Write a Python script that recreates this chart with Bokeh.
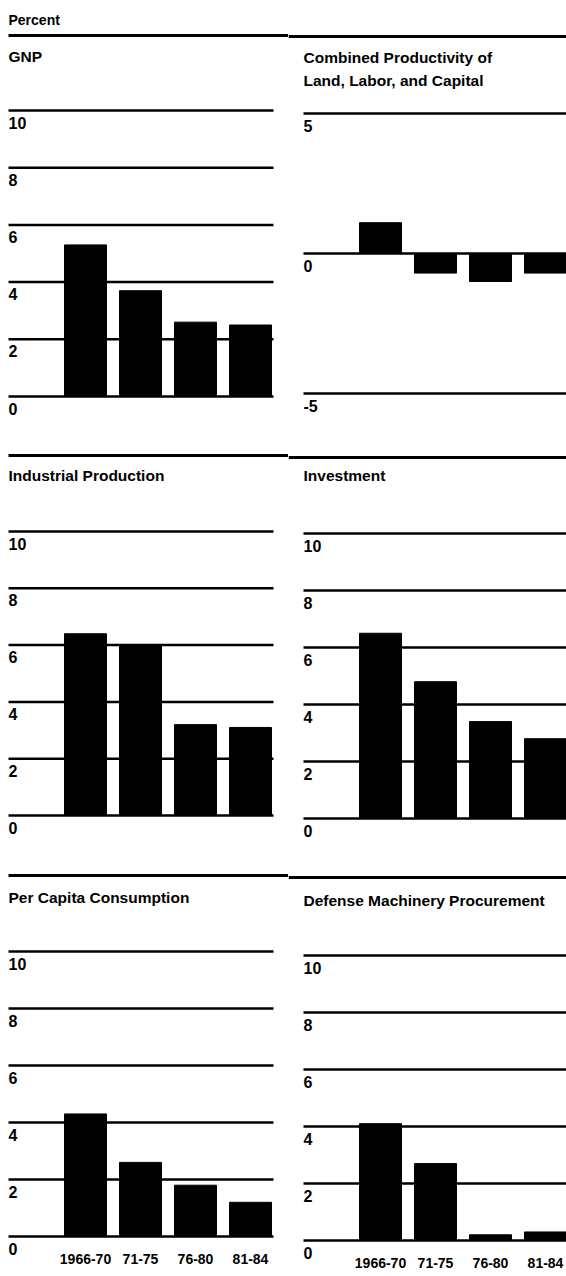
from bokeh.plotting import figure
from bokeh.layouts import column, row
from bokeh.models import Range1d, Label, Grid
from bokeh.core.properties import value
from bokeh.embed import file_html
from bokeh.resources import INLINE

# ---------------- data ----------------
periods = ["1966-70", "71-75", "76-80", "81-84"]
gnp = [5.3, 3.7, 2.6, 2.5]
productivity = [1.1, -0.7, -1.0, -0.7]
industrial = [6.4, 6.0, 3.2, 3.1]
investment = [6.5, 4.8, 3.4, 2.8]
consumption = [4.3, 2.6, 1.8, 1.2]
defense = [4.1, 2.7, 0.2, 0.3]

ticks_std = [0, 2, 4, 6, 8, 10]
ticks_prod = [-5, 0, 5]
tick_labels_std = ["0", "2", "4", "6", "8", "10"]
tick_labels_prod = ["-5", "0", "5"]

unit_label = "Percent"
title_gnp = ["GNP"]
title_prod = ["Combined Productivity of", "Land, Labor, and Capital"]
title_ind = ["Industrial Production"]
title_inv = ["Investment"]
title_cons = ["Per Capita Consumption"]
title_def = ["Defense Machinery Procurement"]

# ---------------- layout constants ----------------
FONT = "Liberation Sans"
STEP = 55.0      # px between bar centres
BAR_W = 42.0     # px
FIRST = 77.0     # px from content left to first bar centre


def panel(title_lines, vals, ticks, tick_labels, fig_w, fig_h, pad_left, content_w,
          zero_px, scale, rule_px, title_px, rule_from_content=False,
          show_cats=False, header_px=None):
    x0 = -(pad_left + FIRST) / STEP
    x1 = x0 + fig_w / STEP
    y_top = zero_px / scale
    y_bot = (zero_px - fig_h) / scale
    p = figure(width=fig_w, height=fig_h, x_range=Range1d(x0, x1),
               y_range=Range1d(y_bot, y_top), output_backend="svg",
               toolbar_location=None, x_axis_location=None, y_axis_location=None,
               min_border=0, outline_line_color=None,
               background_fill_color="white", border_fill_color="white")
    for g in p.select(type=Grid):
        g.visible = False

    def yv(px):
        return (zero_px - px) / scale

    gx0 = x0 + pad_left / STEP
    gx1 = x0 + (pad_left + content_w) / STEP

    # gridlines
    p.segment(x0=[gx0] * len(ticks), x1=[gx1] * len(ticks), y0=ticks, y1=ticks,
              line_color="black", line_width=2.5)
    # bars
    p.vbar(x=list(range(len(vals))), top=vals, bottom=0, width=BAR_W / STEP,
           fill_color="black", line_color="black")
    # tick labels (below each gridline, at left)
    p.text(x=[gx0] * len(ticks), y=ticks, text=tick_labels, text_align="left",
           text_baseline="top", y_offset=6, text_font=value(FONT),
           text_font_size="16px", text_font_style="bold", text_color="black")
    if show_cats:
        p.text(x=list(range(len(periods))), y=[0] * len(periods), text=periods,
               text_align="center", text_baseline="middle", y_offset=22,
               text_font=value(FONT), text_font_size="14px",
               text_font_style="bold", text_color="black")
    # top rule
    rx0 = gx0 if rule_from_content else x0
    p.segment(x0=[rx0], x1=[x1], y0=[yv(rule_px)], y1=[yv(rule_px)],
              line_color="black", line_width=3)
    # titles
    for line, tp in zip(title_lines, title_px):
        p.add_layout(Label(x=gx0, y=yv(tp), text=line, text_align="left",
                           text_baseline="middle", text_font=FONT,
                           text_font_size="15.5px", text_font_style="bold",
                           text_color="black"))
    if header_px is not None:
        p.add_layout(Label(x=gx0, y=yv(header_px), text=unit_label,
                           text_align="left", text_baseline="middle",
                           text_font=FONT, text_font_size="14px",
                           text_font_style="bold", text_color="black"))
    return p


LW, LP, LC = 288, 8, 265
RW, RP, RC = 278, 15, 263
H1, H2, H3 = 430, 420, 426

p1 = panel(title_gnp, gnp, ticks_std, tick_labels_std, LW, H1, LP, LC,
           396, 28.6, 35, [56], rule_from_content=True, header_px=19)
p2 = panel(title_prod, productivity, ticks_prod, tick_labels_prod, RW, H1, RP, RC,
           253, 28.0, 36, [57, 80])
p3 = panel(title_ind, industrial, ticks_std, tick_labels_std, LW, H2, LP, LC,
           385, 28.4, 25, [45], rule_from_content=True)
p4 = panel(title_inv, investment, ticks_std, tick_labels_std, RW, H2, RP, RC,
           388, 28.5, 27, [45])
p5 = panel(title_cons, consumption, ticks_std, tick_labels_std, LW, H3, LP, LC,
           386, 28.5, 25, [47], rule_from_content=True, show_cats=True)
p6 = panel(title_def, defense, ticks_std, tick_labels_std, RW, H3, RP, RC,
           390, 28.5, 27, [50], show_cats=True)

layout = column(row(p1, p2), row(p3, p4), row(p5, p6))

open("out.html", "w").write(file_html(layout, INLINE))
